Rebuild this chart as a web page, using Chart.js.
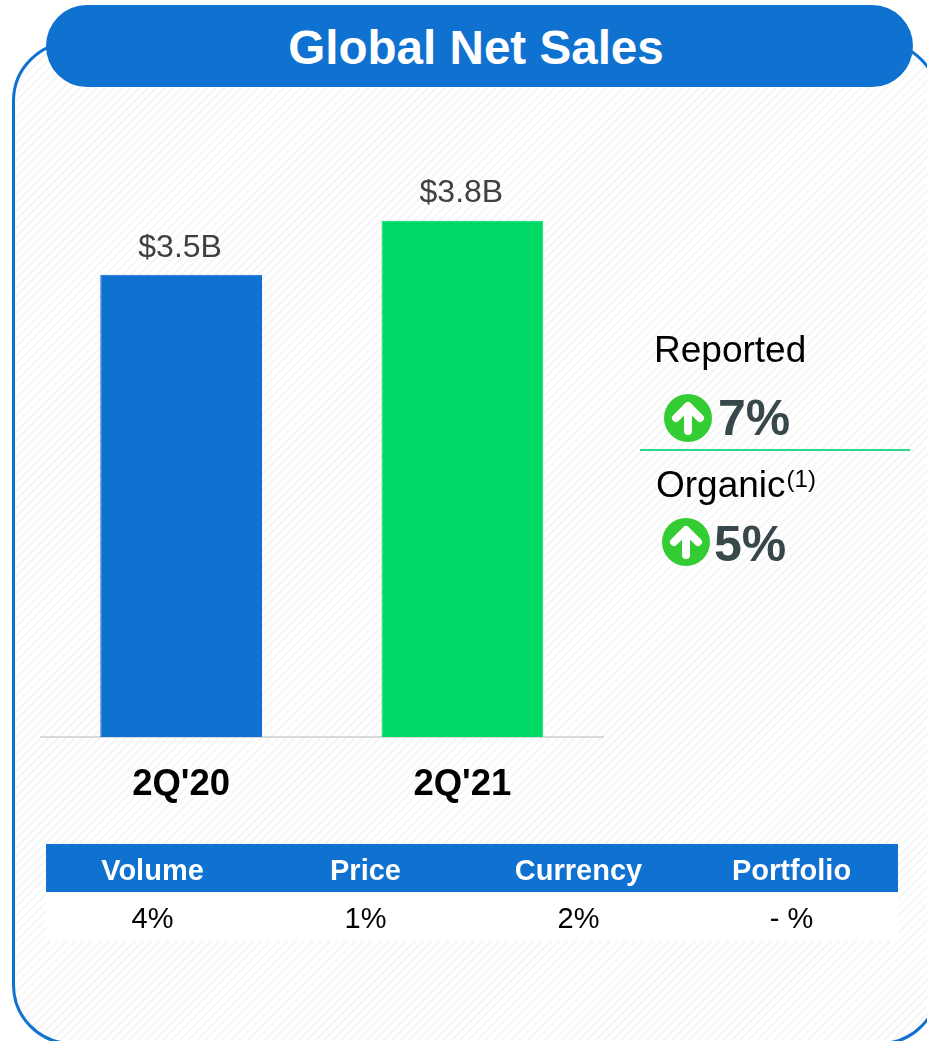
<!DOCTYPE html>
<html>
<head>
<meta charset="utf-8">
<title>Global Net Sales</title>
<script src="https://cdn.jsdelivr.net/npm/chart.js@4"></script>
<style>
  html, body { margin: 0; padding: 0; background: #fff; }
  body { width: 927px; height: 1041px; position: relative; overflow: hidden; font-family: "Liberation Sans", Arial, sans-serif; }
  .abs { position: absolute; }
  .panel {
    left: 12px; top: 41px; width: 928px; height: 1004px; box-sizing: border-box;
    border: 3px solid #0f71d0; border-radius: 60px;
    background: repeating-linear-gradient(135deg, #fff 0 4px, #f6f6f6 4px 6px);
  }
  .title {
    left: 46px; top: 5px; width: 860px; padding-right: 7px; height: 82px; border-radius: 41px; background: #0f71d0;
    color: #fff; font-weight: bold; font-size: 47.6px; line-height: 86px; text-align: center;
  }
  #myChart { left: 0; top: 0; }
  .side { white-space: nowrap; line-height: 1; }
  .side.name { font-size: 37px; color: #000; }
  .side.name sup { font-size: 24px; line-height: 0; vertical-align: baseline; position: relative; top: -10px; left: 1px; }
  .side.pct { font-size: 50px; font-weight: bold; color: #37474a; }
  .rule { left: 640px; top: 449px; width: 270px; height: 2px; background: #2ed88a; }
  table { left: 46px; top: 844px; width: 852px; border-collapse: collapse; table-layout: fixed; }
  th { background: #0f71d0; color: #fff; font-size: 29px; height: 48px; padding: 4px 0 0; box-sizing: border-box; font-weight: bold; }
  td { background: #fff; color: #000; font-size: 29px; height: 49px; padding: 4px 0 0; box-sizing: border-box; text-align: center; }
</style>
</head>
<body>
  <div class="abs panel"></div>
  <div class="abs title">Global Net Sales</div>
  <canvas class="abs" id="myChart" width="927" height="1041"></canvas>

  <div class="abs side name" style="left:654px;top:331px">Reported</div>
  <svg class="abs" style="left:664px;top:394px" width="48" height="48"><use href="#up"/></svg>
  <div class="abs side pct" id="reported" style="left:718px;top:393px"></div>
  <div class="abs rule"></div>
  <div class="abs side name" style="left:656px;top:466px">Organic<sup>(1)</sup></div>
  <svg class="abs" style="left:662px;top:518px" width="48" height="48"><use href="#up"/></svg>
  <div class="abs side pct" id="organic" style="left:714px;top:519px"></div>

  <table class="abs" id="bridge"></table>

  <svg width="0" height="0" style="position:absolute">
    <defs>
      <g id="up">
        <circle cx="24" cy="24" r="24" fill="#33cc33"/>
        <path d="M24 37 V14 M12 24 L24 12 L36 24" stroke="#fff" stroke-width="8" stroke-linecap="round" stroke-linejoin="round" fill="none"/>
      </g>
    </defs>
  </svg>

<script>
  // Quarterly sales, in billions
  let quarters = [`2Q'20`, `2Q'21`]
  let sales = [3.5, 3.8]
  let barColors = ['#0f71d0', '#00d966']
  let barEdges = ['#1560e0', '#00d966']

  // Growth callouts
  let reportedGrowth = '7%'
  let organicGrowth = '5%'

  // Growth bridge underneath the bars
  let bridgeNames = ['Volume', 'Price', 'Currency', 'Portfolio']
  let bridgeValues = ['4%', '1%', '2%', '- %']

  document.querySelector('#reported').textContent = reportedGrowth
  document.querySelector('#organic').textContent = organicGrowth

  document.querySelector('#bridge').innerHTML = `
    <tr>${bridgeNames.map(name => `<th>${name}</th>`).join('')}</tr>
    <tr>${bridgeValues.map(value => `<td>${value}</td>`).join('')}</tr>
  `

  // Draws the dollar label above each bar
  let barLabels = {
    id: 'barLabels',
    afterDatasetsDraw(chart) {
      let ctx = chart.ctx
      ctx.save()
      ctx.font = '32px "Liberation Sans"'
      ctx.fillStyle = '#404040'
      ctx.textAlign = 'center'
      ctx.textBaseline = 'bottom'
      chart.getDatasetMeta(0).data.forEach((bar, i) => {
        ctx.fillText(`$${sales[i].toFixed(1)}B`, bar.x - 1, bar.y - 11)
      })
      ctx.restore()
    }
  }

  new Chart('myChart', {
    type: 'bar',
    data: {
      labels: quarters,
      datasets: [{
        data: sales,
        backgroundColor: barColors,
        borderColor: barEdges,
        borderWidth: 1,
        barPercentage: 0.575,
        categoryPercentage: 1
      }]
    },
    plugins: [barLabels],
    options: {
      responsive: false,
      animation: false,
      layout: { padding: { left: 40.5, right: 324, top: 100, bottom: 230 } },
      plugins: { legend: { display: false }, tooltip: { enabled: false } },
      scales: {
        x: {
          grid: { display: false },
          border: { color: '#d9d9d9', width: 2 },
          ticks: { color: '#000', font: { family: 'Liberation Sans', size: 36.5, weight: 'bold' }, padding: 18, maxRotation: 0 },
          afterFit(scale) { scale.height = 74 }
        },
        y: {
          display: false,
          min: 0.933,
          max: 4.47
        }
      }
    }
  })
</script>
</body>
</html>
